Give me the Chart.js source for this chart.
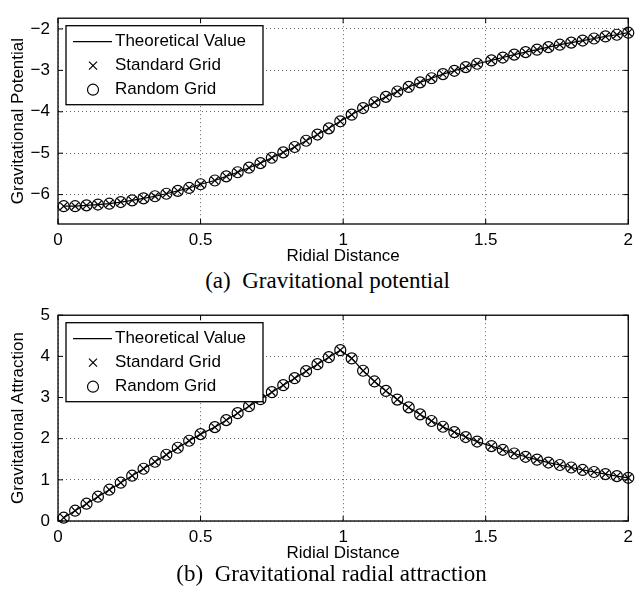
<!DOCTYPE html>
<html>
<head>
<meta charset="utf-8">
<script src="https://cdn.jsdelivr.net/npm/chart.js@4.4.0/dist/chart.umd.min.js"></script>
<style>
  body { margin: 0; background: #fff; width: 639px; height: 591px; position: relative; overflow: hidden; }
  canvas { position: absolute; left: 0; }
  #potChart { top: 0; }
  #attrChart { top: 297px; }
  .caption { position: absolute; width: 639px; text-align: center; font-family: "Liberation Serif", serif; font-size: 23px; line-height: 23px; color: #000; white-space: nowrap; }
</style>
</head>
<body>
<canvas id="potChart" width="639" height="267"></canvas>
<canvas id="attrChart" width="639" height="267"></canvas>
<div class="caption" style="left:8px; top:269px;">(a)&nbsp; Gravitational potential</div>
<div class="caption" style="left:12px; top:562px;">(b)&nbsp; Gravitational radial attraction</div>
<script>
// radial distance of the sample points
const radius = [0.02, 0.06, 0.10, 0.14, 0.18, 0.22, 0.26, 0.30, 0.34, 0.38,
  0.42, 0.46, 0.50, 0.55, 0.59, 0.63, 0.67, 0.71, 0.75, 0.79,
  0.83, 0.87, 0.91, 0.95, 0.99, 1.03, 1.07, 1.11, 1.15, 1.19,
  1.23, 1.27, 1.31, 1.35, 1.39, 1.43, 1.47, 1.52, 1.56, 1.60,
  1.64, 1.68, 1.72, 1.76, 1.80, 1.84, 1.88, 1.92, 1.96, 2.00];

// gravitational potential (theory and both grids sit on top of each other)
const potential = [-6.28, -6.28, -6.26, -6.24, -6.22, -6.18, -6.14, -6.09, -6.04, -5.98,
  -5.91, -5.84, -5.75, -5.66, -5.56, -5.46, -5.35, -5.24, -5.11, -4.98,
  -4.85, -4.70, -4.55, -4.40, -4.23, -4.07, -3.91, -3.77, -3.64, -3.51,
  -3.40, -3.29, -3.19, -3.09, -3.01, -2.92, -2.84, -2.76, -2.69, -2.62,
  -2.56, -2.50, -2.44, -2.38, -2.33, -2.28, -2.23, -2.18, -2.14, -2.09];

// gravitational radial attraction
const attraction = [0.08, 0.25, 0.42, 0.59, 0.76, 0.93, 1.10, 1.27, 1.44, 1.61,
  1.78, 1.95, 2.11, 2.28, 2.45, 2.62, 2.79, 2.96, 3.13, 3.30,
  3.47, 3.64, 3.81, 3.98, 4.15, 3.95, 3.65, 3.39, 3.16, 2.95,
  2.76, 2.59, 2.43, 2.29, 2.16, 2.04, 1.93, 1.82, 1.73, 1.64,
  1.56, 1.49, 1.42, 1.36, 1.30, 1.24, 1.19, 1.14, 1.09, 1.05];

const distTicks = [0, 0.5, 1, 1.5, 2];
const potTicks = [-6, -5, -4, -3, -2];
const attrTicks = [0, 1, 2, 3, 4, 5];
const legendLabels = ["Theoretical Value", "Standard Grid", "Random Grid"];

Chart.defaults.font.family = "'Liberation Sans', Arial, sans-serif";
Chart.defaults.font.size = 17;
Chart.defaults.color = "#000";

function fmt(v) {
    return String(v).replace("-", "\u2212");
}

function points(ys) {
    return radius.map((r, i) => ({ x: r, y: ys[i] }));
}

// box, inner tick marks and the boxed legend like matlab draws them
const matlabFrame = {
    id: "matlabFrame",
    afterDraw(chart) {
        const ctx = chart.ctx;
        const a = chart.chartArea;
        const xs = chart.scales.x;
        const ys = chart.scales.y;
        ctx.save();
        ctx.strokeStyle = "#000";
        ctx.lineWidth = 1.3;
        ctx.setLineDash([]);
        ctx.strokeRect(a.left, a.top, a.right - a.left, a.bottom - a.top);

        ctx.lineWidth = 1;
        ctx.beginPath();
        distTicks.forEach(v => {
            const px = xs.getPixelForValue(v);
            ctx.moveTo(px, a.bottom); ctx.lineTo(px, a.bottom - 5);
            ctx.moveTo(px, a.top); ctx.lineTo(px, a.top + 5);
        });
        ys.ticks.forEach(t => {
            const py = ys.getPixelForValue(t.value);
            ctx.moveTo(a.left, py); ctx.lineTo(a.left + 5, py);
            ctx.moveTo(a.right, py); ctx.lineTo(a.right - 5, py);
        });
        ctx.stroke();

        // legend
        const bx = a.left + 8, by = a.top + 7.5, bw = 197, bh = 79;
        ctx.fillStyle = "#fff";
        ctx.fillRect(bx, by, bw, bh);
        ctx.lineWidth = 1.3;
        ctx.strokeRect(bx, by, bw, bh);

        ctx.lineWidth = 1.2;
        ctx.beginPath();
        ctx.moveTo(bx + 7, by + 16);
        ctx.lineTo(bx + 46, by + 16);
        ctx.stroke();

        const mx = bx + 27;
        ctx.beginPath();
        ctx.moveTo(mx - 4, by + 36); ctx.lineTo(mx + 4, by + 44);
        ctx.moveTo(mx + 4, by + 36); ctx.lineTo(mx - 4, by + 44);
        ctx.stroke();

        ctx.beginPath();
        ctx.arc(mx, by + 64, 5.5, 0, Math.PI * 2);
        ctx.stroke();

        ctx.fillStyle = "#000";
        ctx.font = "17px 'Liberation Sans', Arial, sans-serif";
        ctx.textBaseline = "middle";
        ctx.textAlign = "left";
        legendLabels.forEach((txt, i) => {
            ctx.fillText(txt, bx + 49, by + 16 + i * 24);
        });
        ctx.restore();
    }
};

function makeChart(id, ys, yMin, yMax, yTicks, yTitle, padTop) {
    const ctx = document.getElementById(id).getContext("2d");
    return new Chart(ctx, {
        type: "line",
        data: {
            datasets: [
                {
                    label: legendLabels[0],
                    data: points(ys),
                    borderColor: "#000",
                    borderWidth: 1.2,
                    pointRadius: 0,
                    tension: 0,
                    order: 3
                },
                {
                    label: legendLabels[1],
                    data: points(ys),
                    showLine: false,
                    pointStyle: "crossRot",
                    pointRadius: 5,
                    pointBorderWidth: 1.2,
                    pointBorderColor: "#000",
                    pointBackgroundColor: "rgba(0,0,0,0)",
                    order: 2
                },
                {
                    label: legendLabels[2],
                    data: points(ys),
                    showLine: false,
                    pointStyle: "circle",
                    pointRadius: 5.5,
                    pointBorderWidth: 1.2,
                    pointBorderColor: "#000",
                    pointBackgroundColor: "rgba(0,0,0,0)",
                    order: 1
                }
            ]
        },
        options: {
            responsive: false,
            animation: false,
            clip: false,
            layout: { padding: { left: 0, right: 6, top: padTop, bottom: 0 } },
            plugins: {
                legend: { display: false },
                tooltip: { enabled: false }
            },
            scales: {
                x: {
                    type: "linear",
                    min: 0,
                    max: 2,
                    afterBuildTicks: s => { s.ticks = distTicks.map(v => ({ value: v })); },
                    afterFit: s => { s.height = 43; },
                    ticks: { padding: 6, callback: v => fmt(v), maxRotation: 0 },
                    grid: { color: "#666", lineWidth: 1, drawTicks: false },
                    border: { display: false, dash: [1, 3] },
                    title: { display: true, text: "Ridial Distance", padding: { top: 0, bottom: 0 } }
                },
                y: {
                    type: "linear",
                    min: yMin,
                    max: yMax,
                    afterBuildTicks: s => { s.ticks = yTicks.map(v => ({ value: v })); },
                    afterFit: s => { s.width = 58; },
                    ticks: { padding: 8, callback: v => fmt(v) },
                    grid: { color: "#666", lineWidth: 1, drawTicks: false },
                    border: { display: false, dash: [1, 3] },
                    title: { display: true, text: yTitle, padding: { top: 8, bottom: 0 } }
                }
            }
        },
        plugins: [matlabFrame]
    });
}

makeChart("potChart", potential, -6.71, -1.74, potTicks, "Gravitational Potential", 9);
makeChart("attrChart", attraction, 0, 5, attrTicks, "Gravitational Attraction", 10);
</script>
</body>
</html>
